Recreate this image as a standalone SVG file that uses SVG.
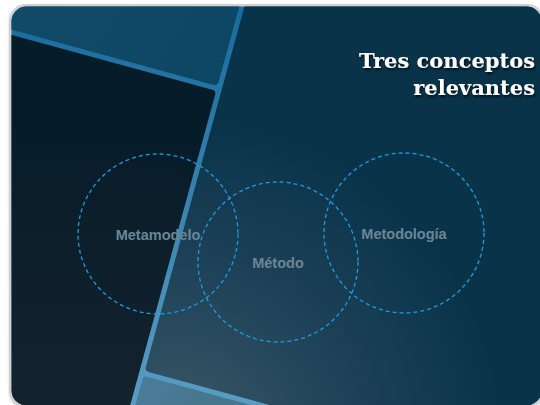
<svg xmlns="http://www.w3.org/2000/svg" width="540" height="405" viewBox="0 0 540 405">
  <defs>
    <clipPath id="frameClip">
      <rect x="11.5" y="6.5" width="530" height="399" rx="15" ry="15"/>
    </clipPath>
    <linearGradient id="gapGrad" gradientUnits="userSpaceOnUse" x1="0" y1="0" x2="0" y2="405">
      <stop offset="0" stop-color="#166a9b"/>
      <stop offset="1" stop-color="#5a9cc4"/>
    </linearGradient>
    <radialGradient id="mainGrad" gradientUnits="userSpaceOnUse" cx="285" cy="385" r="330">
      <stop offset="0" stop-color="#3d5968"/>
      <stop offset="0.55" stop-color="#1e4258"/>
      <stop offset="1" stop-color="#093349"/>
    </radialGradient>
    <linearGradient id="darkGrad" gradientUnits="userSpaceOnUse" x1="120" y1="90" x2="200" y2="400">
      <stop offset="0" stop-color="#061c29"/>
      <stop offset="1" stop-color="#16232e"/>
    </linearGradient>
    <linearGradient id="topGrad" gradientUnits="userSpaceOnUse" x1="20" y1="10" x2="220" y2="80">
      <stop offset="0" stop-color="#104a66"/>
      <stop offset="1" stop-color="#0d4663"/>
    </linearGradient>
    <linearGradient id="botGrad" gradientUnits="userSpaceOnUse" x1="140" y1="380" x2="280" y2="405">
      <stop offset="0" stop-color="#4f88ad"/>
      <stop offset="1" stop-color="#47768f"/>
    </linearGradient>
    <filter id="shadow" x="-10%" y="-20%" width="120%" height="160%">
      <feDropShadow dx="1" dy="2" stdDeviation="0.8" flood-color="#000000" flood-opacity="0.7"/>
    </filter>
    <filter id="frameShadow" x="-5%" y="-5%" width="110%" height="110%">
      <feDropShadow dx="0" dy="1" stdDeviation="1" flood-color="#000000" flood-opacity="0.2"/>
    </filter>
  </defs>
  <style>
    .circle { fill: none; stroke: #1b9be0; stroke-width: 1.3; stroke-dasharray: 4 3; }
    .label { font-family: "Liberation Sans", Arial, sans-serif; font-weight: bold; font-size: 14.5px; fill: #6a8696; text-anchor: middle; }
    .title { font-family: "DejaVu Serif", "Liberation Serif", serif; font-weight: bold; font-size: 21px; fill: #ffffff; text-anchor: end; }
  </style>

  <rect width="540" height="405" fill="#ffffff"/>
  <rect x="9" y="4" width="535" height="404" rx="17" ry="17" fill="#d0d0d0" filter="url(#frameShadow)"/>

  <g id="background" clip-path="url(#frameClip)">
    <rect x="0" y="0" width="540" height="405" fill="url(#gapGrad)"/>
    <g transform="rotate(15.3)">
      <rect x="-300" y="-400" width="532.5" height="425.5" rx="4" fill="url(#topGrad)"/>
      <rect x="-300" y="30.5" width="532.5" height="600" rx="4" fill="url(#darkGrad)"/>
      <rect x="237.5" y="-500" width="700" height="819.5" rx="4" fill="url(#mainGrad)"/>
      <rect x="237.5" y="324.5" width="700" height="400" rx="4" fill="url(#botGrad)"/>
    </g>
  </g>

  <g id="title" filter="url(#shadow)">
    <text class="title" x="535" y="68">Tres conceptos</text>
    <text class="title" x="535" y="95">relevantes</text>
  </g>

  <g id="connectors"/>

  <g id="node-metamodelo">
    <circle class="circle" cx="158" cy="234" r="80"/>
    <text class="label" x="158" y="240">Metamodelo</text>
  </g>
  <g id="node-metodo">
    <circle class="circle" cx="278" cy="262" r="80"/>
    <text class="label" x="278" y="268">Método</text>
  </g>
  <g id="node-metodologia">
    <circle class="circle" cx="404" cy="233" r="80"/>
    <text class="label" x="404" y="239">Metodología</text>
  </g>
</svg>
